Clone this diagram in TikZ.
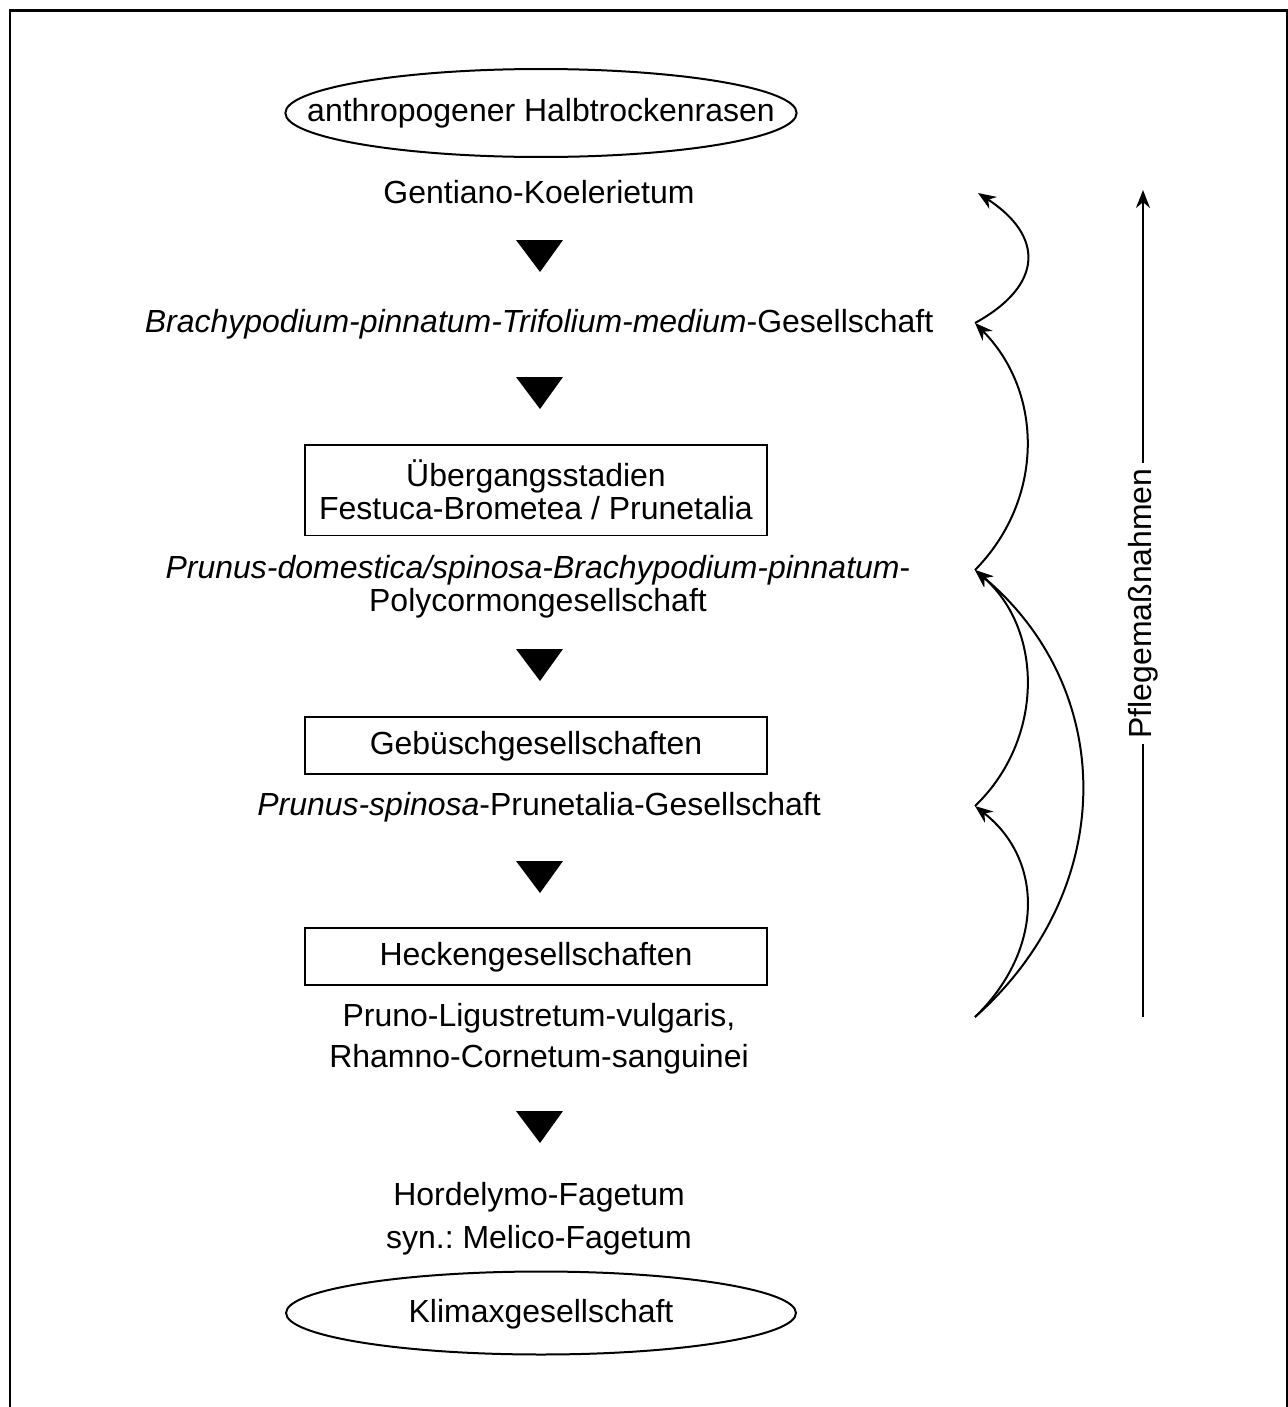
\documentclass[tikz,border=0pt]{standalone}
\usepackage{fontspec}
\setmainfont{Liberation Sans}
\usetikzlibrary{shapes.geometric,arrows.meta}
\frenchspacing

\begin{document}
\begin{tikzpicture}[x=0.02cm,y=-0.02cm,line width=0.04cm]
\tikzstyle{every node}=[font=\fontsize{18.2}{18.6}\selectfont,align=center,inner sep=0pt];
\tikzstyle{oval}=[draw,ellipse,minimum width=10.2cm,minimum height=1.76cm];
\tikzstyle{stage}=[draw,rectangle,minimum width=9.26cm,minimum height=1.14cm];
\tikzstyle{care}=[-{Stealth[length=0.36cm,width=0.28cm]}];
\useasboundingbox (0,0) rectangle (1288,1407);
\draw[line width=0.06cm] (10,1407) -- (10,10) -- (1287,10) -- (1287,1407);
% succession
\node[oval,inner xsep=-1.06cm] (top) at (541,113) {anthropogener Halbtrockenrasen};
\node (gent) at (539,192) {Gentiano-Koelerietum};
\node (brach) at (539,324) {\textit{Brachypodium-pinnatum-Trifolium-medium}-Gesellschaft};
\node[stage,minimum height=1.82cm] (ueber) at (536,490) {Übergangsstadien\\Festuca-Brometea / Prunetalia};
\node (prun) at (538,587) {\textit{Prunus-domestica/spinosa-Brachypodium-pinnatum}-\\Polycormongesellschaft};
\node[stage,text depth=0.1cm] (gebu) at (536,745) {Gebüschgesellschaften};
\node (spin) at (539,807) {\textit{Prunus-spinosa}-Prunetalia-Gesellschaft};
\node[stage,text depth=0.1cm] (heck) at (536,956) {Heckengesellschaften};
\node (lig) at (539,1039) {Pruno-Ligustretum-vulgaris,\\[4.5pt]Rhamno-Cornetum-sanguinei};
\node (fag) at (539,1219) {Hordelymo-Fagetum\\[6pt]syn.: Melico-Fagetum};
\node[oval,minimum height=1.66cm,text depth=0.1cm] (klim) at (541,1313) {Klimaxgesellschaft};
\foreach \y in {256,393,665,877,1127}
  \fill (516,\y-16) -- (563,\y-16) -- (540,\y+16) -- cycle;
% Pflegemassnahmen
\coordinate (a) at (975,1017);
\coordinate (b) at (975,806);
\coordinate (c) at (975,570);
\coordinate (d) at (975,323);
\coordinate (e) at (978,193);
\draw[care] (a) .. controls (1044,950) and (1044,860) .. (b);
\draw[care] (b) .. controls (1044,740) and (1044,630) .. (c);
\draw[care] (a) .. controls (1118,890) and (1118,690) .. (c);
\draw[care] (c) .. controls (1044,500) and (1044,393) .. (d);
\draw[care] (d) .. controls (1044,285) and (1044,236) .. (e);
\coordinate (pb) at (1143,1017);
\coordinate (pt) at (1143,190);
\draw[care] (pb) -- (pt) node[midway,rotate=90,fill=white,inner xsep=0.1cm] {Pflegemaßnahmen};
\end{tikzpicture}
\end{document}
